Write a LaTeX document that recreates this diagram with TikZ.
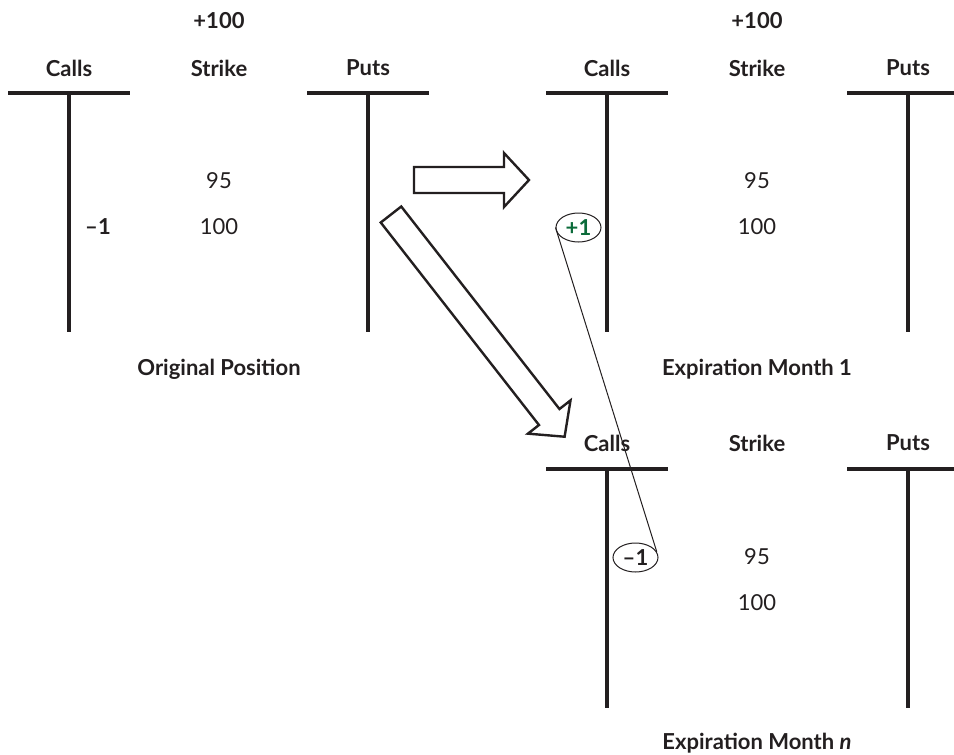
\documentclass[tikz,border=0pt]{standalone}
\usepackage{fontspec}
\setmainfont{Lato}
\usetikzlibrary{shapes.geometric}
\definecolor{ink}{HTML}{231F20}
\definecolor{pinegreen}{HTML}{0B6B3A}
\tikzset{
  % T-konton
  tacc/.style={draw=ink,line width=2.3pt},
  hd/.style={font=\fontsize{11}{13}\selectfont\bfseries,text=ink,inner sep=0pt},
  num/.style={font=\fontsize{11}{13}\selectfont,text=ink,inner sep=0pt},
  posbox/.style={ellipse,draw=ink,line width=0.5pt,minimum width=22.5pt,
              minimum height=14.5pt,inner sep=0pt,
              font=\fontsize{11}{13}\selectfont\bfseries,text=ink},
  % pilar
  link/.style={draw=ink,line width=0.5pt},
  blk/.style={draw=ink,line width=1.2pt,fill=white,line join=miter},
}
% stem x, top y, bottom y
\newcommand{\tacct}[3]{%
  \draw[tacc] (#1-61,#2) -- (#1+61,#2) (#1,#2) -- (#1,#3);}
% tail x, tail y, angle, length
\newcommand{\blockarrow}[4]{%
  \draw[blk,shift={(#1,#2)},rotate=#3] (0,-13) -- (#4-25,-13) -- (#4-25,-27)
    -- (#4,0) -- (#4-25,27) -- (#4-25,13) -- (0,13) -- cycle;}

\begin{document}
\begin{tikzpicture}[x=0.5pt,y=-0.5pt]
\useasboundingbox (0,0) rectangle (954,755);
  % original position
  \node[hd] (add0) at (219,21) {+100};
  \node[hd] (calls0) at (69,68) {Calls};
  \node[hd] (strike0) at (219,68) {Strike};
  \node[hd] (puts0) at (368,68) {Puts};
  \tacct{69}{93}{332}
  \tacct{368}{93}{332}
  \node[num] (k95a) at (219,181) {95};
  \node[num] (k100a) at (219,227) {100};
  \node[hd] (short0) at (98,227) {–1};
  \node[hd] (ttl0) at (219,369) {Original Position};
  % expiration month 1
  \node[hd] (add1) at (757,21) {+100};
  \node[hd] (calls1) at (607,68) {Calls};
  \node[hd] (strike1) at (757,68) {Strike};
  \node[hd] (puts1) at (908,68) {Puts};
  \tacct{607}{93}{332}
  \tacct{908}{93}{332}
  \node[num] (k95b) at (757,181) {95};
  \node[num] (k100b) at (757,227) {100};
  \node[posbox,text=pinegreen] (long1) at (578.5,227.5) {+1};
  \node[hd] (ttl1) at (757,369) {Expiration Month 1};
  % expiration month n
  \node[hd] (calls2) at (607,443) {Calls};
  \node[hd] (strike2) at (757,443) {Strike};
  \node[hd] (puts2) at (908,443) {Puts};
  \tacct{607}{469}{708}
  \tacct{908}{469}{708}
  \node[num] (k95c) at (757,557) {95};
  \node[num] (k100c) at (757,603) {100};
  \node[posbox] (short2) at (635.5,557.5) {–1};
  \node[hd] (ttl2) at (757,743) {Expiration Month \textit{n}};
  % roll arrows
  \blockarrow{414}{180}{0}{115}
  \blockarrow{391}{214.5}{-52}{282}
  \draw[link] (long1.west) -- (short2.15);
\end{tikzpicture}
\end{document}
